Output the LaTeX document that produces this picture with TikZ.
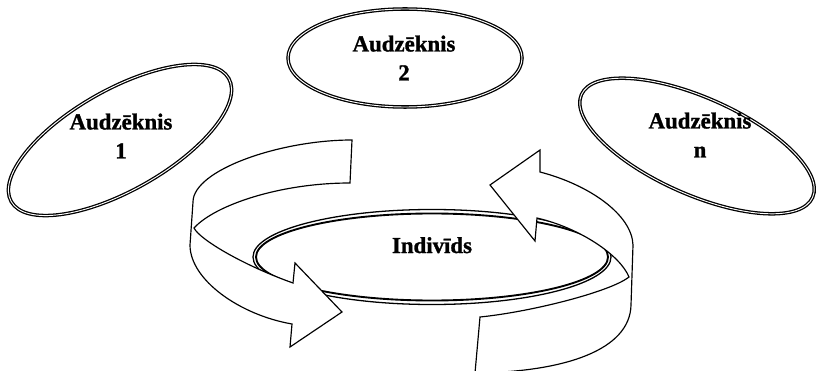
\documentclass[tikz,border=0pt]{standalone}
\usepackage{fontspec}
\setmainfont{Liberation Serif}[BoldFeatures={FakeBold=1.2}]
\usetikzlibrary{shapes.geometric}
\begin{document}
\begin{tikzpicture}[x=0.03cm, y=-0.03cm,
  ring/.style={draw, ellipse, line width=1.1pt, double=white,
    double distance=0.8pt, inner sep=0pt},
  lbl/.style={font=\bfseries\fontsize{19.5}{24.7}\selectfont,
    align=center, inner sep=0pt},
  band/.style={draw, fill=white, line width=1pt, line join=miter}]
\clip (0,0) rectangle (817,371);

% the three pupils
\node[ring, minimum width=7.5cm, minimum height=3.02cm, rotate=29.5] (e1) at (120,140) {};
\node[ring, minimum width=7.02cm, minimum height=2.94cm] (e2) at (405,58) {};
\node[ring, minimum width=7.59cm, minimum height=2.9cm, rotate=-24] (en) at (697,146) {};
\node[lbl] (t1) at (121,136) {Audzēknis\\1};
\node[lbl] (t2) at (404,58) {Audzēknis\\2};
\node[lbl] (tn) at (700,135) {Audzēknis\\n};

% the individual: outer and inner rim
\node[draw, ellipse, fill=white, line width=1.1pt, inner sep=0pt,
  minimum width=10.74cm, minimum height=2.85cm] (ind) at (432,257) {};
\node[draw, ellipse, line width=1.6pt, inner sep=0pt,
  minimum width=10.56cm, minimum height=2.61cm] (indin) at (ind.center) {};

% left ribbon arrow, winding from the back to the front
\draw[band] (352,140) .. controls (280,140) and (193,170) .. (193,202)
  -- (190,245) .. controls (190,280) and (240,315) .. (292,324)
  -- (290,347) -- (342,312) -- (295,263) -- (293,283)
  .. controls (245,266) and (200,240) .. (194,228)
  .. controls (215,205) and (280,183) .. (350,183) -- cycle;

% right ribbon arrow, winding from the front to the back
\draw[band] (480,317) .. controls (530,312) and (610,292) .. (629,277)
  .. controls (620,255) and (580,228) .. (537,218)
  -- (535,241) -- (490,185) -- (540,150) -- (540,172)
  .. controls (590,185) and (632,215) .. (633,245)
  -- (631,305) .. controls (630,350) and (565,372) .. (475,373) -- cycle;

\node[lbl, anchor=base] (tind) at (432,253) {Indivīds};
\end{tikzpicture}
\end{document}
